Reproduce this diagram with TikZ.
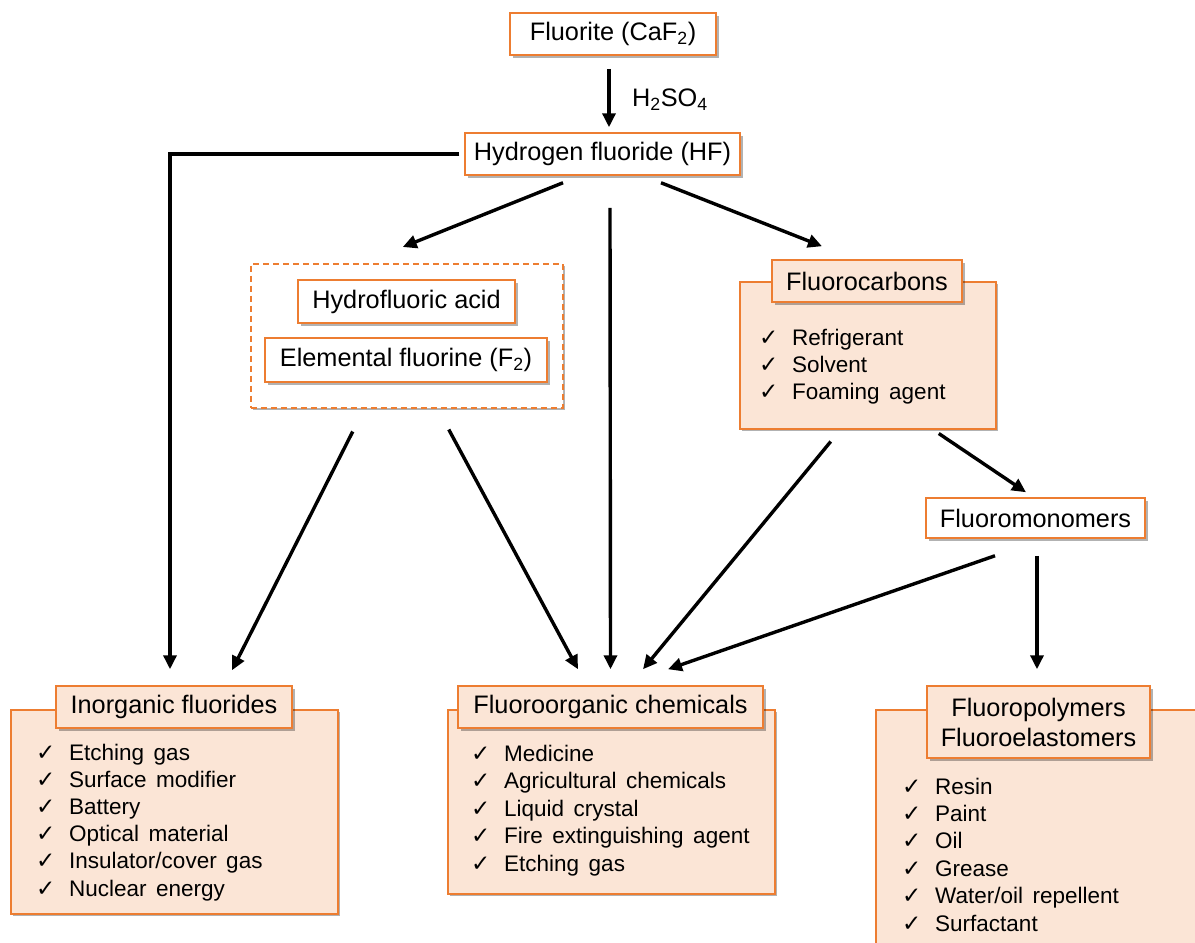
\documentclass[tikz,border=0pt]{standalone}
\usepackage{fontspec}
\setmainfont{Liberation Sans}
\newfontfamily\symfont{DejaVu Sans}
\usetikzlibrary{arrows.meta,shadows}
\definecolor{orbd}{RGB}{237,125,49}
\definecolor{orfill}{RGB}{251,229,214}
\newcommand\chk{\makebox[33pt][l]{\symfont\fontsize{23}{26}\selectfont ✓}}
\newcommand\itm[1]{\chk\spaceskip=9.5pt plus 2pt\relax #1}
\tikzset{
  shad/.style={drop shadow={shadow xshift=2.5pt,shadow yshift=-2.5pt,fill=black,opacity=0.3}},
  whitebox/.style={draw=orbd,line width=1.5pt,fill=white,shad,inner sep=0pt,font=\fontsize{25.3}{29}\selectfont},
  titlebox/.style={draw=orbd,line width=1.5pt,fill=orfill,shad,inner sep=0pt,font=\fontsize{25.3}{30}\selectfont,align=center},
  outbox/.style={draw=orbd,line width=1.5pt,fill=orfill,shad,inner sep=0pt,anchor=north west},
  dashbox/.style={draw=orbd,line width=1.5pt,dash pattern=on 6pt off 4pt,fill=white,shad,inner sep=0pt,anchor=north west},
  item/.style={anchor=base west,inner sep=0pt,font=\fontsize{22.5}{26}\selectfont},
  arr/.style={line width=3.4pt,-{Triangle[length=14pt,width=13pt]}},
  lbl/.style={inner sep=0pt,font=\fontsize{25.3}{29}\selectfont}
}
\begin{document}
\begin{tikzpicture}[x=1pt,y=-1pt]
\useasboundingbox (0,0) rectangle (1195,943);
% top
\node[whitebox,minimum width=206,minimum height=42] (fl) at (613,34) {Fluorite (CaF\textsubscript{2})};
\node[whitebox,minimum width=275,minimum height=42] (hf) at (602.5,154) {Hydrogen fluoride (HF)};
\node[lbl,anchor=west] (h2so4) at (632,100) {H\textsubscript{2}SO\textsubscript{4}};
% dashed group
\node[dashbox,minimum width=312,minimum height=144] (dash) at (250,263) {};
\node[whitebox,minimum width=217,minimum height=43] (hfa) at (406.5,301.5) {Hydrofluoric acid};
\node[whitebox,minimum width=282,minimum height=44] (ef) at (406,360) {Elemental fluorine (F\textsubscript{2})};
% fluorocarbons
\node[outbox,minimum width=256,minimum height=147] (fc) at (739,281) {};
\node[titlebox,minimum width=190,minimum height=42] (fct) at (867,281) {Fluorocarbons};
\foreach \t [count=\i from 0] in {Refrigerant,Solvent,Foaming agent}
  \node[item] (fc\i) at (759,{345+27*\i}) {\itm{\t}};
% fluoromonomers
\node[whitebox,minimum width=219,minimum height=40] (fm) at (1035.5,518) {Fluoromonomers};
% inorganic
\node[outbox,minimum width=327,minimum height=204] (ino) at (10,709) {};
\node[titlebox,minimum width=236,minimum height=42] (inot) at (174,707) {Inorganic fluorides};
\foreach \t [count=\i from 0] in {Etching gas,Surface modifier,Battery,Optical material,Insulator/cover gas,Nuclear energy}
  \node[item] (ino\i) at (36,{760+27.2*\i}) {\itm{\t}};
% fluoroorganic
\node[outbox,minimum width=327,minimum height=184] (fo) at (447,709) {};
\node[titlebox,minimum width=305,minimum height=42] (fot) at (610.5,707) {Fluoroorganic chemicals};
\foreach \t [count=\i from 0] in {Medicine,Agricultural chemicals,Liquid crystal,Fire extinguishing agent,Etching gas}
  \node[item] (fo\i) at (471,{761+27.5*\i}) {\itm{\t}};
% fluoropolymers
\node[outbox,minimum width=340,minimum height=260] (fp) at (875,709) {};
\node[titlebox,minimum width=223,minimum height=72] (fpt) at (1038.5,722) {Fluoropolymers\\Fluoroelastomers};
\foreach \t [count=\i from 0] in {Resin,Paint,Oil,Grease,Water/oil repellent,Surfactant}
  \node[item] (fp\i) at (902,{794+27.4*\i}) {\itm{\t}};
% connectors
\draw[arr] ([xshift=-4pt,yshift=-13pt]fl.south) -- ([xshift=6.5pt,yshift=5pt]hf.north);
\draw[arr] ([xshift=-5pt]hf.west) -| ([xshift=-4pt,yshift=16pt]inot.north);
\draw[arr] ([xshift=-39.5pt,yshift=-7pt]hf.south) -- ([xshift=-4pt,yshift=16pt]dash.north);
\draw[arr] ([xshift=58.5pt,yshift=-7pt]hf.south) -- ([xshift=-45pt,yshift=13pt]fct.north);
\draw[arr] ([xshift=7.5pt,yshift=-32pt]hf.south) -- ([xshift=0pt,yshift=16pt]fot.north);
\draw[arr] ([xshift=-54pt,yshift=-23pt]dash.south) -- ([xshift=58pt,yshift=15pt]inot.north);
\draw[arr] ([xshift=42pt,yshift=-21pt]dash.south) -- ([xshift=-32.5pt,yshift=16pt]fot.north);
\draw[arr] ([xshift=-37pt,yshift=-12pt]fc.south) -- ([xshift=32.5pt,yshift=16pt]fot.north);
\draw[arr] ([xshift=71pt,yshift=-4pt]fc.south) -- ([xshift=-9.5pt,yshift=5pt]fm.north);
\draw[arr] ([xshift=-40.5pt,yshift=-17pt]fm.south) -- ([xshift=57.5pt,yshift=16pt]fot.north);
\draw[arr] ([xshift=1.5pt,yshift=-17pt]fm.south) -- ([xshift=-1.5pt,yshift=16pt]fpt.north);
\end{tikzpicture}
\end{document}
